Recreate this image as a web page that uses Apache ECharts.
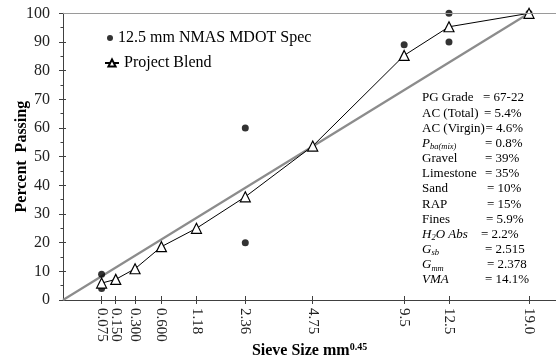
<!DOCTYPE html>
<html><head><meta charset="utf-8">
<script src="https://cdn.jsdelivr.net/npm/echarts@6/dist/echarts.min.js"></script>
<style>html,body{margin:0;padding:0;background:#fff}#c{width:556px;height:358px}</style>
</head><body><div id="c"></div>
<script>
// ---- data ----
const sieveLabels = ['0.075','0.150','0.300','0.600','1.18','2.36','4.75','9.5','12.5','19.0'];
const sieveSizes = [0.075, 0.15, 0.3, 0.6, 1.18, 2.36, 4.75, 9.5, 12.5, 19.0];
const blendPassing = [5.9, 7.2, 10.9, 18.6, 25.0, 36.0, 53.7, 85.3, 95.3, 100];
const specSieves = [0.075, 0.075, 2.36, 2.36, 9.5, 12.5, 12.5, 19.0];
const specPassing = [9, 4, 60, 20, 89, 100, 90, 100];
const maxDensitySieves = [0, 19.0];
const maxDensityPassing = [0, 100];
const yTickValues = [0, 10, 20, 30, 40, 50, 60, 70, 80, 90, 100];
const seriesNames = ['12.5 mm NMAS MDOT Spec', 'Project Blend'];
const noteLabels = ['PG Grade','AC (Total)','AC (Virgin)','{i|P}{sub|ba(mix)}','Gravel','Limestone','Sand','RAP','Fines','{i|H}{sub|2}{i|O Abs}','{i|G}{sub|sb}','{i|G}{sub|mm}','{i|VMA}'];
const noteValues = ['= 67-22','= 5.4%','= 4.6%','= 0.8%','= 39%','= 35%','= 10%','= 15%','= 5.9%','= 2.2%','= 2.515','= 2.378','= 14.1%'];
const POWER = 0.45;

// ---- build ----
const pw = s => Math.pow(s, POWER);
const FONT = "'Liberation Serif','Times New Roman',serif";
const tickPos = sieveSizes.map(pw);
const evenPos = tickPos.filter((v, i) => i % 2 === 0);
const oddPos = tickPos.filter((v, i) => i % 2 === 1);
function labelFor(v) {
  let best = 0, d = Infinity;
  tickPos.forEach((t, i) => { const dd = Math.abs(t - v); if (dd < d) { d = dd; best = i; } });
  return sieveLabels[best];
}
const axisGray = '#404040';
const XMAX = 3.98;

const noteX1 = 422, noteY0 = 98, noteDy = 15.17;
const noteX2 = [483, 484, 485.5, 485, 485, 485, 487, 487, 486, 481, 485, 487, 485];
const richNote = {
  i: { fontStyle: 'italic', fontSize: 13, fontFamily: FONT, fill: '#000' },
  sub: { fontStyle: 'italic', fontSize: 8.5, fontFamily: FONT, fill: '#000', padding: [7, 0, 0, 0] }
};
const graphics = [];
noteLabels.forEach((t, k) => {
  graphics.push({ type: 'text', x: noteX1, y: noteY0 + k * noteDy,
    style: { text: t, fontSize: 13, fontFamily: FONT, fill: '#000', verticalAlign: 'middle', align: 'left', rich: richNote } });
  graphics.push({ type: 'text', x: noteX2[k], y: noteY0 + k * noteDy,
    style: { text: noteValues[k], fontSize: 13, fontFamily: FONT, fill: '#000', verticalAlign: 'middle', align: 'left' } });
});

const xLabelStyle = { show: true, rotate: -90, margin: 8, fontSize: 15, fontFamily: FONT, color: '#222',
  showMinLabel: true, showMaxLabel: true, hideOverlap: false, formatter: v => labelFor(v) };

const chart = echarts.init(document.getElementById('c'));
chart.setOption({
  animation: false,
  backgroundColor: '#fff',
  textStyle: { fontFamily: FONT },
  grid: { left: 63, right: 0, top: 13.3, bottom: 58, containLabel: false, outerBoundsMode: 'none' },
  legend: [
    { data: [seriesNames[0]], left: 102, top: 25, orient: 'vertical', itemWidth: 6, itemHeight: 6,
      textStyle: { fontSize: 16, fontFamily: FONT, color: '#000' } },
    { data: [seriesNames[1]], left: 99, top: 50, orient: 'vertical', itemWidth: 14, itemHeight: 9,
      textStyle: { fontSize: 16, fontFamily: FONT, color: '#000' } }
  ],
  xAxis: [
    { type: 'value', min: 0, max: XMAX, position: 'bottom',
      name: 'Sieve Size mm{sup|0.45}', nameLocation: 'middle', nameGap: 42, nameMoveOverlap: false,
      nameTextStyle: { fontSize: 16, fontWeight: 'bold', fontFamily: FONT, color: '#000',
        rich: { sup: { fontSize: 10, fontWeight: 'bold', fontFamily: FONT, color: '#000', padding: [0, 0, 7, 0] } } },
      axisLine: { show: true, lineStyle: { color: axisGray, width: 1 } },
      axisTick: { show: true, customValues: tickPos, length: 4, inside: false, lineStyle: { color: axisGray } },
      axisLabel: Object.assign({ customValues: evenPos }, xLabelStyle),
      splitLine: { show: false } },
    { type: 'value', min: 0, max: XMAX, position: 'bottom',
      axisLine: { show: false },
      axisTick: { show: true, customValues: tickPos, length: 4, inside: true, lineStyle: { color: axisGray } },
      axisLabel: Object.assign({ customValues: oddPos, inside: false }, xLabelStyle),
      splitLine: { show: false } }
  ],
  yAxis: [
    { type: 'value', min: 0, max: 100, interval: 10, position: 'left',
      name: 'Percent  Passing', nameLocation: 'middle', nameGap: 33, nameMoveOverlap: false,
      nameTextStyle: { fontSize: 16, fontWeight: 'bold', fontFamily: FONT, color: '#000' },
      axisLine: { show: true, lineStyle: { color: axisGray, width: 1 } },
      axisTick: { show: true, length: 4, lineStyle: { color: axisGray } },
      minorTick: { show: true, splitNumber: 2, length: 2.5, lineStyle: { color: axisGray } },
      axisLabel: { fontSize: 16, fontFamily: FONT, color: '#222', margin: 13 },
      splitLine: { show: false } },
    { type: 'value', min: 0, max: 100, interval: 10, position: 'left',
      axisLine: { show: false },
      axisTick: { show: true, length: 3, inside: true, customValues: yTickValues.filter(v => v > 0 && v < 100), lineStyle: { color: axisGray } },
      axisLabel: { show: false },
      splitLine: { show: false } }
  ],
  series: [
    { name: 'maxDensity', type: 'line', xAxisIndex: 0, yAxisIndex: 0,
      data: maxDensitySieves.map((s, i) => [pw(s), maxDensityPassing[i]]),
      showSymbol: false, symbol: 'none', lineStyle: { color: '#8c8c8c', width: 2.2 }, z: 2,
      markLine: { silent: true, symbol: ['none', 'none'], label: { show: false },
        lineStyle: { color: '#9a9a9a', width: 1, type: 'solid' }, data: [{ yAxis: 100 }] } },
    { name: seriesNames[1], type: 'line', xAxisIndex: 0, yAxisIndex: 0,
      data: sieveSizes.map((s, i) => [pw(s), blendPassing[i]]),
      symbol: 'triangle', symbolSize: 10,
      itemStyle: { color: '#fff', borderColor: '#000', borderWidth: 1.2 },
      lineStyle: { color: '#000', width: 1 }, z: 4 },
    { name: seriesNames[0], type: 'scatter', xAxisIndex: 0, yAxisIndex: 0,
      data: specSieves.map((s, i) => [pw(s), specPassing[i]]),
      symbol: 'circle', symbolSize: 7, itemStyle: { color: '#000' }, z: 3 }
  ],
  graphic: graphics
});
</script></body></html>
